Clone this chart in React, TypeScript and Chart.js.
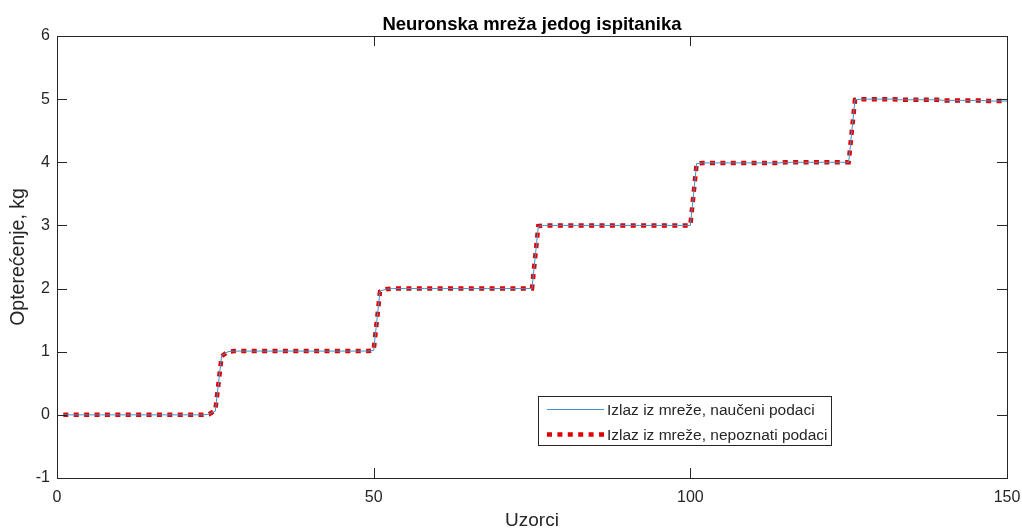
import { useEffect, useRef } from "react";
import { Chart, registerables } from "chart.js";

Chart.register(...registerables);

const titleText = "Neuronska mreža jedog ispitanika";
const xAxisTitle = "Uzorci";
const yAxisTitle = "Opterećenje, kg";
const seriesLabels = ["Izlaz iz mreže, naučeni podaci", "Izlaz iz mreže, nepoznati podaci"];
const xTickValues = [0, 50, 100, 150];
const yTickValues = [-1, 0, 1, 2, 3, 4, 5, 6];

const samples = [
  1, 2, 3, 4, 5, 6, 7, 8, 9, 10, 11, 12, 13, 14, 15, 16, 17, 18, 19, 20, 21, 22, 23, 24, 25,
  26, 27, 28, 29, 30, 31, 32, 33, 34, 35, 36, 37, 38, 39, 40, 41, 42, 43, 44, 45, 46, 47, 48, 49, 50,
  51, 52, 53, 54, 55, 56, 57, 58, 59, 60, 61, 62, 63, 64, 65, 66, 67, 68, 69, 70, 71, 72, 73, 74, 75,
  76, 77, 78, 79, 80, 81, 82, 83, 84, 85, 86, 87, 88, 89, 90, 91, 92, 93, 94, 95, 96, 97, 98, 99, 100,
  101, 102, 103, 104, 105, 106, 107, 108, 109, 110, 111, 112, 113, 114, 115, 116, 117, 118, 119, 120, 121, 122, 123, 124, 125,
  126, 127, 128, 129, 130, 131, 132, 133, 134, 135, 136, 137, 138, 139, 140, 141, 142, 143, 144, 145, 146, 147, 148, 149, 150,
];

const learnedOutput = [
  0.00, 0.00, 0.00, 0.00, 0.00, 0.00, 0.00, 0.00, 0.00, 0.00, 0.00, 0.00, 0.00, 0.00, 0.00, 0.00, 0.00, 0.00, 0.00, 0.00, 0.00, 0.00, 0.00, 0.01, 0.06,
  0.94, 1.00, 1.01, 1.01, 1.01, 1.01, 1.01, 1.01, 1.01, 1.01, 1.01, 1.01, 1.01, 1.01, 1.01, 1.01, 1.01, 1.01, 1.01, 1.01, 1.01, 1.01, 1.01, 1.01, 1.02,
  1.96, 1.99, 2.00, 2.00, 2.00, 2.00, 2.00, 2.00, 2.00, 2.00, 2.00, 2.00, 2.00, 2.00, 2.00, 2.00, 2.00, 2.00, 2.00, 2.00, 2.00, 2.00, 2.00, 2.00, 2.00,
  2.99, 3.00, 3.00, 3.00, 3.00, 3.00, 3.00, 3.00, 3.00, 3.00, 3.00, 3.00, 3.00, 3.00, 3.00, 3.00, 3.00, 3.00, 3.00, 3.00, 3.00, 3.00, 3.00, 3.00, 3.00,
  3.98, 3.99, 3.99, 3.99, 3.99, 3.99, 3.99, 3.99, 3.99, 3.99, 3.99, 3.99, 3.99, 3.99, 4.00, 4.00, 4.00, 4.00, 4.00, 4.00, 4.00, 4.00, 4.00, 4.00, 4.00,
  4.99, 5.00, 5.00, 5.00, 5.00, 5.00, 5.00, 4.99, 4.99, 4.99, 4.99, 4.99, 4.99, 4.99, 4.98, 4.98, 4.98, 4.98, 4.98, 4.98, 4.98, 4.97, 4.97, 4.97, 4.97,
];

const unknownOutput = [
  0.00, 0.00, 0.00, 0.00, 0.00, 0.00, 0.00, 0.00, 0.00, 0.00, 0.00, 0.00, 0.00, 0.00, 0.00, 0.00, 0.00, 0.00, 0.00, 0.00, 0.00, 0.00, 0.00, 0.01, 0.07,
  0.93, 1.00, 1.01, 1.01, 1.01, 1.01, 1.01, 1.01, 1.01, 1.01, 1.01, 1.01, 1.01, 1.01, 1.01, 1.01, 1.01, 1.01, 1.01, 1.01, 1.01, 1.01, 1.01, 1.01, 1.02,
  1.95, 1.99, 2.00, 2.00, 2.00, 2.00, 2.00, 2.00, 2.00, 2.00, 2.00, 2.00, 2.00, 2.00, 2.00, 2.00, 2.00, 2.00, 2.00, 2.00, 2.00, 2.00, 2.00, 2.00, 2.00,
  2.99, 3.00, 3.00, 3.00, 3.00, 3.00, 3.00, 3.00, 3.00, 3.00, 3.00, 3.00, 3.00, 3.00, 3.00, 3.00, 3.00, 3.00, 3.00, 3.00, 3.00, 3.00, 3.00, 3.00, 3.00,
  3.98, 3.99, 3.99, 3.99, 3.99, 3.99, 3.99, 3.99, 3.99, 3.99, 3.99, 3.99, 3.99, 3.99, 4.00, 4.00, 4.00, 4.00, 4.00, 4.00, 4.00, 4.00, 4.00, 4.00, 4.00,
  4.99, 5.00, 5.00, 5.00, 5.00, 5.00, 5.00, 4.99, 4.99, 4.99, 4.99, 4.99, 4.99, 4.99, 4.98, 4.98, 4.98, 4.98, 4.98, 4.98, 4.98, 4.97, 4.97, 4.97, 4.97,
];

const AXIS_COLOR = "#262626";
const FONT = "'Liberation Sans', Arial, Helvetica, sans-serif";

const axesTitlePlugin = {
  id: "axesTitle",
  afterDraw(chart: any) {
    const { ctx, chartArea } = chart;
    ctx.save();
    ctx.fillStyle = "#000000";
    ctx.font = `bold 18.5px ${FONT}`;
    ctx.textAlign = "center";
    ctx.textBaseline = "alphabetic";
    ctx.fillText(titleText, (chartArea.left + chartArea.right) / 2, chartArea.top - 6);
    ctx.restore();
  },
};

const boxAndTicksPlugin = {
  id: "boxAndTicks",
  afterDatasetsDraw(chart: any) {
    const { ctx, chartArea, scales } = chart;
    const { left, right, top, bottom } = chartArea;
    const len = 10;
    ctx.save();
    ctx.strokeStyle = AXIS_COLOR;
    ctx.lineWidth = 1;
    ctx.beginPath();
    for (const v of xTickValues) {
      const px = Math.round(scales.x.getPixelForValue(v)) + 0.5;
      ctx.moveTo(px, bottom);
      ctx.lineTo(px, bottom - len);
      ctx.moveTo(px, top);
      ctx.lineTo(px, top + len);
    }
    for (const v of yTickValues) {
      const py = Math.round(scales.y.getPixelForValue(v)) + 0.5;
      ctx.moveTo(left, py);
      ctx.lineTo(left + len, py);
      ctx.moveTo(right, py);
      ctx.lineTo(right - len, py);
    }
    ctx.stroke();
    ctx.strokeRect(left + 0.5, top + 0.5, right - left, bottom - top);
    ctx.restore();
  },
};

const boxLegendPlugin = {
  id: "boxLegend",
  afterDraw(chart: any) {
    const { ctx, chartArea } = chart;
    const bx = chartArea.left + 481;
    const by = chartArea.top + 360;
    const bw = 293;
    const bh = 49;
    ctx.save();
    ctx.fillStyle = "#ffffff";
    ctx.fillRect(bx, by, bw, bh);
    ctx.strokeStyle = AXIS_COLOR;
    ctx.lineWidth = 1;
    ctx.strokeRect(bx + 0.5, by + 0.5, bw, bh);
    ctx.font = `15.5px ${FONT}`;
    ctx.textBaseline = "middle";
    ctx.fillStyle = AXIS_COLOR;
    chart.data.datasets.forEach((ds: any, i: number) => {
      const cy = by + 13.5 + i * 25;
      ctx.save();
      ctx.strokeStyle = ds.borderColor;
      ctx.lineWidth = ds.borderWidth;
      ctx.lineCap = "butt";
      ctx.setLineDash(ds.borderDash || []);
      ctx.beginPath();
      ctx.moveTo(bx + 9, cy);
      ctx.lineTo(bx + 66, cy);
      ctx.stroke();
      ctx.restore();
      ctx.fillText(ds.label, bx + 69, cy + 1);
    });
    ctx.restore();
  },
};

export default function App() {
  const ref = useRef<HTMLCanvasElement | null>(null);

  useEffect(() => {
    document.body.style.margin = "0";
    const canvas = ref.current;
    if (!canvas) return;
    const chart = new Chart(canvas, {
      type: "line",
      data: {
        datasets: [
          {
            label: seriesLabels[0],
            data: samples.map((x, i) => ({ x, y: learnedOutput[i] })),
            borderColor: "#3f93c8",
            borderWidth: 1,
            pointRadius: 0,
            tension: 0,
            fill: false,
          },
          {
            label: seriesLabels[1],
            data: samples.map((x, i) => ({ x, y: unknownOutput[i] })),
            borderColor: "#e00000",
            borderWidth: 4.5,
            borderDash: [5, 5.4],
            borderCapStyle: "butt",
            borderJoinStyle: "miter",
            pointRadius: 0,
            tension: 0,
            fill: false,
          },
        ],
      },
      options: {
        animation: false,
        responsive: false,
        layout: { padding: { left: 0, right: 15, top: 36, bottom: 0 } },
        plugins: {
          legend: { display: false },
          tooltip: { enabled: false },
          title: { display: false },
        },
        scales: {
          x: {
            type: "linear",
            min: 0,
            max: 150,
            afterBuildTicks: (s: any) => {
              s.ticks = xTickValues.map((v) => ({ value: v }));
            },
            afterFit: (s: any) => {
              s.height = 52;
              s.paddingLeft = 0;
              s.paddingRight = 0;
            },
            grid: { display: false, drawTicks: false },
            border: { display: false },
            ticks: {
              color: AXIS_COLOR,
              font: { family: FONT, size: 16 },
              padding: 10,
              maxRotation: 0,
            },
            title: {
              display: true,
              text: xAxisTitle,
              color: AXIS_COLOR,
              font: { family: FONT, size: 19, lineHeight: 1 },
              padding: { top: 0, bottom: 0 },
            },
          },
          y: {
            type: "linear",
            min: -1,
            max: 6,
            afterBuildTicks: (s: any) => {
              s.ticks = yTickValues.map((v) => ({ value: v }));
            },
            afterFit: (s: any) => {
              s.width = 57;
              s.paddingTop = 0;
              s.paddingBottom = 0;
            },
            grid: { display: false, drawTicks: false },
            border: { display: false },
            ticks: {
              color: AXIS_COLOR,
              font: { family: FONT, size: 16 },
              padding: 7,
            },
            title: {
              display: true,
              text: yAxisTitle,
              color: AXIS_COLOR,
              font: { family: FONT, size: 19.5, lineHeight: 1.2 },
              padding: { top: 7, bottom: 0 },
            },
          },
        },
      },
      plugins: [boxAndTicksPlugin, boxLegendPlugin, axesTitlePlugin],
    } as any);
    return () => chart.destroy();
  }, []);

  return (
    <div style={{ width: 1022, height: 530, background: "#ffffff" }}>
      <canvas ref={ref} width={1022} height={530} style={{ display: "block" }} />
    </div>
  );
}
